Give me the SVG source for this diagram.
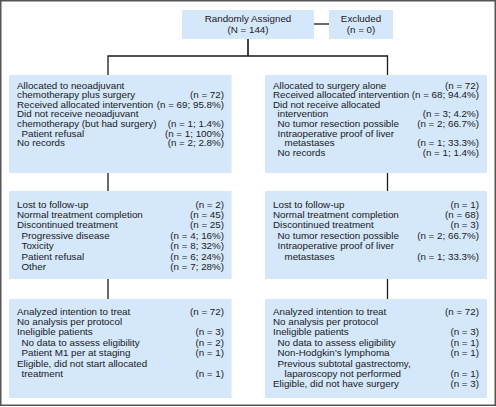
<svg xmlns="http://www.w3.org/2000/svg" width="496" height="407" viewBox="0 0 496 407">
<style>
.box{fill:#d4e7fb;}
text{font-family:"Liberation Sans",Arial,sans-serif;font-size:9.8px;fill:#1a1a1a;}
.c{text-anchor:middle;}
.r{text-anchor:end;}
.ln{stroke:#1a1a1a;stroke-width:1.3;fill:none;}
.thick{stroke:#444;stroke-width:2;fill:none;}
</style>
<rect x="0.75" y="0.75" width="494.5" height="404.5" fill="#fff" stroke="#555" stroke-width="1.5"/>
<g id="connectors">
<line class="ln" x1="314" y1="24" x2="329" y2="24"/>
<line class="thick" x1="248" y1="39" x2="248" y2="56"/>
<polyline class="ln" points="108,75 108,56 387.5,56 387.5,75"/>
<line class="ln" x1="108" y1="173" x2="108" y2="191"/>
<line class="ln" x1="387.5" y1="173" x2="387.5" y2="191"/>
<line class="ln" x1="108" y1="279" x2="108" y2="299"/>
<line class="ln" x1="387.5" y1="279" x2="387.5" y2="299"/>
</g>
<g id="randomized">
<rect class="box" x="182" y="10" width="132" height="29"/>
<text class="c" x="248" y="22">Randomly Assigned</text>
<text class="c" x="248" y="33">(N = 144)</text>
</g>
<g id="excluded">
<rect class="box" x="329" y="10" width="64" height="29"/>
<text class="c" x="361" y="22">Excluded</text>
<text class="c" x="361" y="33">(n = 0)</text>
</g>
<g id="alloc-left">
<rect class="box" x="9" y="75" width="222.5" height="98"/>
<text x="17" y="88.5">Allocated to neoadjuvant</text>
<text x="17" y="98.1">chemotherapy plus surgery</text><text class="r" x="224" y="98.1">(n = 72)</text>
<text x="17" y="107.7">Received allocated intervention</text><text class="r" x="224" y="107.7">(n = 69; 95.8%)</text>
<text x="17" y="117.3">Did not receive neoadjuvant</text>
<text x="17" y="126.9">chemotherapy (but had surgery)</text><text class="r" x="224" y="126.9">(n = 1; 1.4%)</text>
<text x="21.5" y="136.5">Patient refusal</text><text class="r" x="224" y="136.5">(n = 1; 100%)</text>
<text x="17" y="146.1">No records</text><text class="r" x="224" y="146.1">(n = 2; 2.8%)</text>
</g>
<g id="alloc-right">
<rect class="box" x="265" y="75" width="222" height="98"/>
<text x="273" y="88.5">Allocated to surgery alone</text><text class="r" x="479" y="88.5">(n = 72)</text>
<text x="273" y="98.1">Received allocated intervention</text><text class="r" x="479" y="98.1">(n = 68; 94.4%)</text>
<text x="273" y="107.7">Did not receive allocated</text>
<text x="277.5" y="117.3">intervention</text><text class="r" x="479" y="117.3">(n = 3; 4.2%)</text>
<text x="277.5" y="126.9">No tumor resection possible</text><text class="r" x="479" y="126.9">(n = 2; 66.7%)</text>
<text x="277.5" y="136.5">Intraoperative proof of liver</text>
<text x="284.5" y="146.1">metastases</text><text class="r" x="479" y="146.1">(n = 1; 33.3%)</text>
<text x="277.5" y="155.7">No records</text><text class="r" x="479" y="155.7">(n = 1; 1.4%)</text>
</g>
<g id="followup-left">
<rect class="box" x="9" y="191" width="222.5" height="88"/>
<text x="17" y="207.5">Lost to follow-up</text><text class="r" x="224" y="207.5">(n = 2)</text>
<text x="17" y="217.9">Normal treatment completion</text><text class="r" x="224" y="217.9">(n = 45)</text>
<text x="17" y="228.3">Discontinued treatment</text><text class="r" x="224" y="228.3">(n = 25)</text>
<text x="21.5" y="238.7">Progressive disease</text><text class="r" x="224" y="238.7">(n = 4; 16%)</text>
<text x="21.5" y="249.1">Toxicity</text><text class="r" x="224" y="249.1">(n = 8; 32%)</text>
<text x="21.5" y="259.5">Patient refusal</text><text class="r" x="224" y="259.5">(n = 6; 24%)</text>
<text x="21.5" y="269.9">Other</text><text class="r" x="224" y="269.9">(n = 7; 28%)</text>
</g>
<g id="followup-right">
<rect class="box" x="265" y="191" width="222" height="88"/>
<text x="273" y="207.5">Lost to follow-up</text><text class="r" x="479" y="207.5">(n = 1)</text>
<text x="273" y="217.9">Normal treatment completion</text><text class="r" x="479" y="217.9">(n = 68)</text>
<text x="273" y="228.3">Discontinued treatment</text><text class="r" x="479" y="228.3">(n = 3)</text>
<text x="277.5" y="238.7">No tumor resection possible</text><text class="r" x="479" y="238.7">(n = 2; 66.7%)</text>
<text x="277.5" y="249.1">Intraoperative proof of liver</text>
<text x="284.5" y="259.5">metastases</text><text class="r" x="479" y="259.5">(n = 1; 33.3%)</text>
</g>
<g id="analysis-left">
<rect class="box" x="9" y="299" width="222.5" height="99"/>
<text x="17" y="314.5">Analyzed intention to treat</text><text class="r" x="224" y="314.5">(n = 72)</text>
<text x="17" y="324.9">No analysis per protocol</text>
<text x="17" y="335.3">Ineligible patients</text><text class="r" x="224" y="335.3">(n = 3)</text>
<text x="21.5" y="345.7">No data to assess eligibility</text><text class="r" x="224" y="345.7">(n = 2)</text>
<text x="21.5" y="356.1">Patient M1 per at staging</text><text class="r" x="224" y="356.1">(n = 1)</text>
<text x="17" y="366.5">Eligible, did not start allocated</text>
<text x="21.5" y="376.9">treatment</text><text class="r" x="224" y="376.9">(n = 1)</text>
</g>
<g id="analysis-right">
<rect class="box" x="265" y="299" width="222" height="99"/>
<text x="273" y="314.5">Analyzed intention to treat</text><text class="r" x="479" y="314.5">(n = 72)</text>
<text x="273" y="324.9">No analysis per protocol</text>
<text x="273" y="335.3">Ineligible patients</text><text class="r" x="479" y="335.3">(n = 3)</text>
<text x="277.5" y="345.7">No data to assess eligibility</text><text class="r" x="479" y="345.7">(n = 1)</text>
<text x="277.5" y="356.1">Non-Hodgkin’s lymphoma</text><text class="r" x="479" y="356.1">(n = 1)</text>
<text x="277.5" y="366.5">Previous subtotal gastrectomy,</text>
<text x="284.5" y="376.9">laparoscopy not performed</text><text class="r" x="479" y="376.9">(n = 1)</text>
<text x="273" y="387.3">Eligible, did not have surgery</text><text class="r" x="479" y="387.3">(n = 3)</text>
</g>
</svg>
